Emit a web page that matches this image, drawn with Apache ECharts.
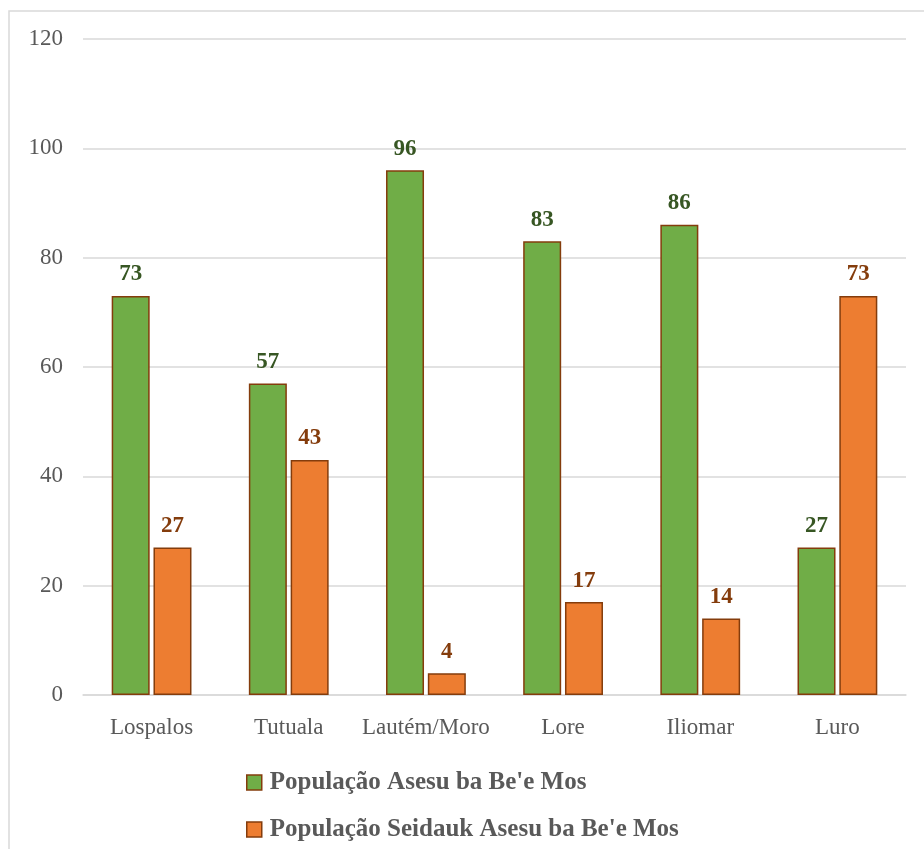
<!DOCTYPE html>
<html>
<head>
<meta charset="utf-8">
<script src="https://cdn.jsdelivr.net/npm/echarts@6/dist/echarts.min.js"></script>
<style>
html,body{margin:0;padding:0;background:#fff;}
#c{width:924px;height:849px;}
</style>
</head>
<body>
<div id="c"></div>
<script>
const categories = ['Lospalos', 'Tutuala', 'Lautém/Moro', 'Lore', 'Iliomar', 'Luro'];
const seriesNames = ["População Asesu ba Be'e Mos", "População Seidauk Asesu ba Be'e Mos"];
const asesu = [73, 57, 96, 83, 86, 27];
const seidauk = [27, 43, 4, 17, 14, 73];
const yTicks = [0, 20, 40, 60, 80, 100, 120];

const chart = echarts.init(document.getElementById('c'), null, {renderer: 'canvas'});
const serif = 'Liberation Serif';
chart.setOption({
  animation: false,
  backgroundColor: '#ffffff',
  graphic: [{
    type: 'rect',
    shape: {x: 9, y: 11, width: 940, height: 900},
    style: {fill: 'none', stroke: '#d9d9d9', lineWidth: 1.5},
    silent: true
  }],
  grid: {left: 83, right: 18, top: 39, bottom: 154, containLabel: false},
  legend: {
    orient: 'vertical',
    left: 241,
    top: 765,
    itemWidth: 15,
    itemHeight: 15,
    itemGap: 22,
    icon: 'rect',
    itemStyle: {borderColor: '#843c0c', borderWidth: 1.5},
    textStyle: {fontFamily: serif, fontSize: 25, fontWeight: 'bold', color: '#595959', padding: [0,0,0,3]},
    data: seriesNames
  },
  xAxis: {
    type: 'category',
    data: categories,
    axisLine: {show: true, lineStyle: {color: '#d9d9d9', width: 1.5}},
    axisTick: {show: false},
    axisLabel: {interval: 0, fontFamily: serif, fontSize: 23, color: '#595959', margin: 21}
  },
  yAxis: {
    type: 'value',
    min: yTicks[0],
    max: yTicks[yTicks.length - 1],
    interval: 20,
    axisLine: {show: false},
    axisTick: {show: false},
    splitLine: {lineStyle: {color: '#d9d9d9', width: 1.5}},
    axisLabel: {fontFamily: serif, fontSize: 23, color: '#595959', margin: 20, padding: [6, 0, 0, 0]}
  },
  series: [
    {
      name: seriesNames[0],
      type: 'bar',
      data: asesu,
      barWidth: 38,
      barGap: '10%',
      itemStyle: {color: '#70ad47', borderColor: '#843c0c', borderWidth: 1.5},
      label: {show: true, position: 'top', distance: 10, fontFamily: serif, fontSize: 23, fontWeight: 'bold', color: '#375623'}
    },
    {
      name: seriesNames[1],
      type: 'bar',
      data: seidauk,
      barWidth: 38,
      barGap: '10%',
      itemStyle: {color: '#ed7d31', borderColor: '#843c0c', borderWidth: 1.5},
      label: {show: true, position: 'top', distance: 10, fontFamily: serif, fontSize: 23, fontWeight: 'bold', color: '#843c0c'}
    }
  ]
});
</script>
</body>
</html>
